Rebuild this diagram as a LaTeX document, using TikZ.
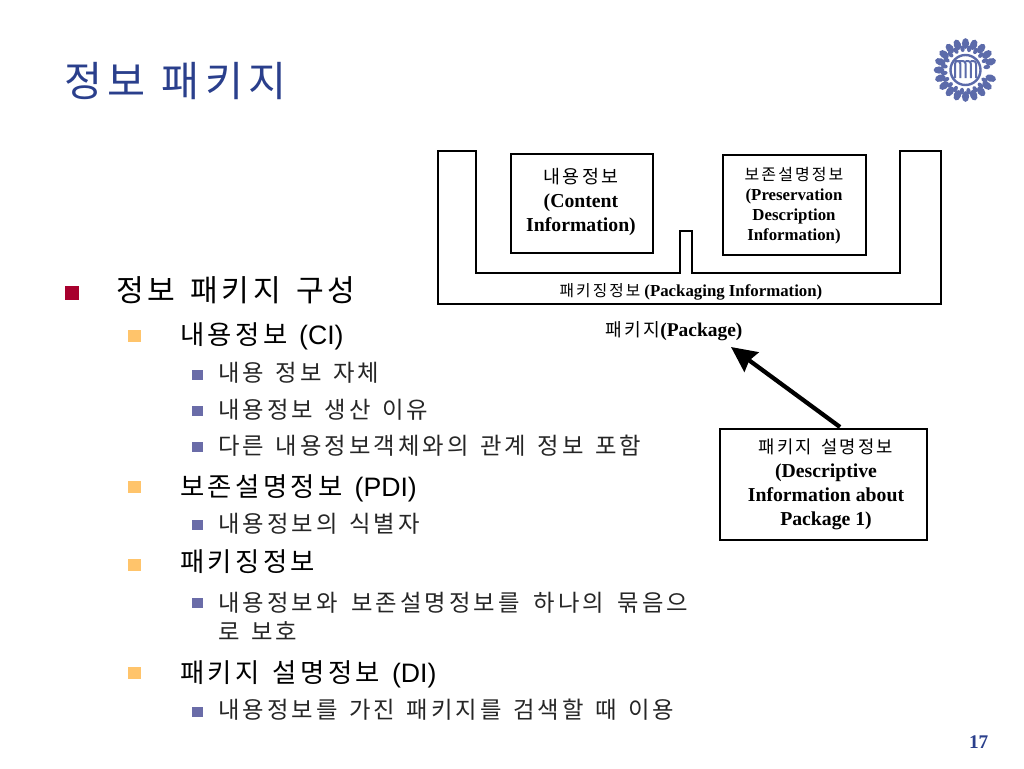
\documentclass[tikz,border=0pt]{standalone}
\usepackage{fontspec}
\setmainfont{Liberation Sans}
\newfontfamily\ko[LetterSpace=13,WordSpace=1.4]{Noto Sans CJK KR}
\newfontfamily\serifen{Liberation Serif}
\usetikzlibrary{arrows.meta}
\definecolor{titleblue}{HTML}{2A3F8C}
\definecolor{bulletred}{HTML}{A8002E}
\definecolor{bulletorange}{HTML}{FFC46B}
\definecolor{bulletblue}{HTML}{6A6CA8}
\definecolor{logoblue}{HTML}{5C6BAA}
\newcommand{\latinpart}[1]{{\rmfamily\fontsize{20}{24}\selectfont #1}}
\tikzset{
  x=0.75pt,y=-0.75pt,
  txt/.style={anchor=base west,inner sep=0pt,outer sep=0pt},
  titletxt/.style={txt,text=titleblue,font=\ko\fontsize{31}{36}\selectfont},
  lone/.style={txt,font=\ko\fontsize{22.6}{28}\selectfont},
  ltwo/.style={txt,font=\ko\fontsize{19.8}{24}\selectfont},
  lthree/.style={txt,text=black!85,font=\ko\fontsize{17.5}{22}\selectfont},
  sq/.style={fill,draw=none,inner sep=0pt,outer sep=0pt,minimum size=#1,anchor=center},
  diagbox/.style={draw=black,line width=1.6pt,inner sep=0pt,align=center,anchor=north west},
  wall/.style={draw=black,line width=1.9pt,line join=miter},
  dtxt/.style={inner sep=0pt,align=center,anchor=center},
  leaf/.style={fill=logoblue,draw=none},
}
\begin{document}
\begin{tikzpicture}
\useasboundingbox (0,0) rectangle (1024,768);
\fill[white] (0,0) rectangle (1024,768);

% title and page number
\node[titletxt] (title) at (64,96) {정보 \kern-3pt패키지};
\node[txt,text=titleblue,font=\serifen\bfseries\fontsize{14.5}{16}\selectfont] (pageno) at (969,748) {17};

% logo
\foreach \a in {-72,-54,...,252}{
  \fill[leaf,rotate around={\a+90:(965.5,70)}] (965.5,70)++(26.5,0) ellipse (5.4 and 3.6);
  \fill[leaf,rotate around={\a+80:(965.5,70)}] (965.5,70)++(21.5,0) ellipse (3.4 and 2.2);
}
\draw[logoblue,line width=1.8pt] (965.5,70) circle (15);
\draw[logoblue,line width=1.5pt,rounded corners=2pt]
  (955,78)--(955,61)--(960.25,61)--(960.25,78) (960.25,61)--(965.5,61)--(965.5,78)
  (965.5,61)--(970.75,61)--(970.75,78) (970.75,61)--(976,61)--(976,78);

% bullets
\node[sq=10.5pt,bulletred] (b1) at (71.5,293) {};
\foreach \n/\y in {c1/336,c2/487,c3/565,c4/673}{
  \node[sq=9.5pt,bulletorange] (\n) at (134.5,\y) {};
}
\foreach \n/\y in {d1/375,d2/411,d3/447,d4/525,d5/603,d6/712}{
  \node[sq=8pt,bulletblue] (\n) at (197.5,\y) {};
}

% outline
\node[lone] (t1) at (116,301) {정보 패키지 구성};
\node[ltwo] (t2) at (180,344) {내용정보 \kern-1pt\latinpart{(CI)}};
\node[lthree] (t3) at (218,381) {내용 정보 자체};
\node[lthree] (t4) at (218,418) {내용정보 생산 이유};
\node[lthree] (t5) at (218,454) {다른 내용정보객체와의 관계 정보 포함};
\node[ltwo] (t6) at (180,496) {보존설명정보 \kern-1pt\latinpart{(PDI)}};
\node[lthree] (t7) at (218,532) {내용정보의 식별자};
\node[ltwo] (t8) at (180,571) {패키징정보};
\node[lthree] (t9) at (218,611) {내용정보와 \kern1.7pt보존설명정보를 \kern1.7pt하나의 \kern1.7pt묶음으};
\node[lthree] (t10) at (218,640) {로 보호};
\node[ltwo] (t11) at (180,682) {패키지 설명정보 \kern-1pt\latinpart{(DI)}};
\node[lthree] (t12) at (218,718) {내용정보를 가진 패키지를 검색할 때 이용};

% package container
\draw[wall] (438,304) -- (438,151) -- (476,151) -- (476,273) -- (680,273) -- (680,231) -- (692,231) -- (692,273) -- (900,273) -- (900,151) -- (941,151) -- (941,304) -- cycle;

\node[diagbox,minimum width=106.5pt,minimum height=74.5pt] (ci) at (510,153) {};
\node[dtxt,font=\serifen\bfseries\fontsize{14.8}{18}\selectfont] (citext) at (581,201.5)
  {{\ko\mdseries\fontsize{13.8}{18}\selectfont 내용정보}\\(Content\\Information)};
\node[diagbox,minimum width=107pt,minimum height=75pt] (pdi) at (722,154) {};
\node[dtxt,font=\serifen\bfseries\fontsize{12.6}{15}\selectfont] (pditext) at (794,206)
  {{\ko\mdseries\fontsize{12}{15}\selectfont 보존설명정보}\\(Preservation\\Description\\Information)};
\node[dtxt,font=\serifen\bfseries\fontsize{12.6}{14}\selectfont] (pktext) at (691,291.5)
  {{\ko\mdseries\fontsize{11.8}{14}\selectfont 패키징정보} (Packaging Information)};
\node[dtxt,font=\serifen\bfseries\fontsize{14.6}{18}\selectfont] (pkg) at (674,331.5)
  {{\ko\mdseries\fontsize{13.6}{18}\selectfont 패키지}(Package)};

\node[diagbox,minimum width=155.5pt,minimum height=83pt] (di) at (719,428) {};
\node[dtxt,font=\serifen\bfseries\fontsize{14.8}{18}\selectfont] (ditext) at (826,484)
  {{\ko\mdseries\fontsize{13.3}{18}\selectfont 패키지 설명정보}\\(Descriptive\\Information about\\Package 1)};

\coordinate (arrowfrom) at (840,427);
\coordinate (arrowto) at (731,347);
\draw[line width=3.2pt,-{Stealth[length=19pt,width=18pt,inset=2pt]}] (arrowfrom) -- (arrowto);
\end{tikzpicture}
\end{document}
